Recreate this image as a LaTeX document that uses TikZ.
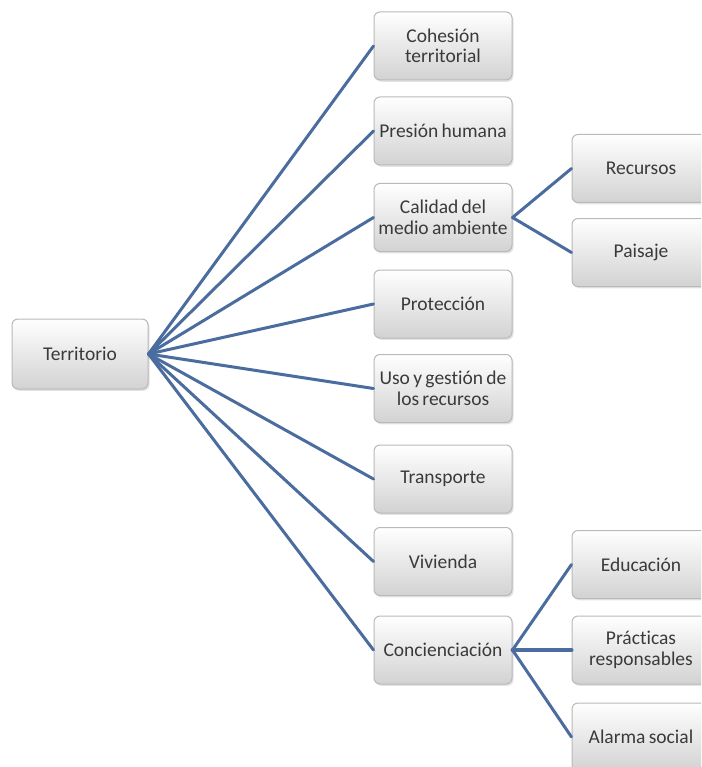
\documentclass[tikz,border=0pt]{standalone}
\usepackage{fontspec}
\setmainfont{Carlito}[Ligatures={NoCommon,NoRare}]
\usetikzlibrary{shadows}
\definecolor{linkc}{RGB}{74,108,158}
\definecolor{boxborder}{RGB}{185,185,185}
\definecolor{boxbottom}{RGB}{210,210,210}
\definecolor{txt}{RGB}{58,58,58}
\newcommand\boxfont{\fontsize{19.5}{20.5}\selectfont\spaceskip=0.17em plus 0.02em\relax}
\begin{document}
\begin{tikzpicture}[x=1pt,y=-1pt,
 box/.style={draw=boxborder, line width=1pt, rounded corners=6pt,
   top color=white, bottom color=boxbottom,
   minimum width=138pt, minimum height=68pt,
   align=center, font=\boxfont, text=txt, inner sep=1pt,
   drop shadow={opacity=0.22, shadow xshift=1.5pt, shadow yshift=-1.8pt}},
 link/.style={draw=linkc, line width=3pt, line cap=round}]
\useasboundingbox (0,0) rectangle (701,767);
\clip (0,0) rectangle (701,767);
\fill[white] (0,0) rectangle (701,767);

\node[box, minimum width=136pt, minimum height=70pt] (terr) at (80,354) {Territorio};

\node[box] (coh)  at (443,46)    {Cohesión\\territorial};
\node[box] (pres) at (443,131)   {Presión humana};
\node[box] (cal)  at (443,217.5) {Calidad del\\medio ambiente};
\node[box] (prot) at (443,304)   {Protección};
\node[box] (uso)  at (443,388.5) {Uso y gestión de\\los recursos};
\node[box] (trans) at (443,479)  {Transporte};
\node[box] (viv)  at (443,561.5) {Vivienda};
\node[box] (conc) at (443,650)   {Concienciación};

\node[box] (rec)  at (641,168.5) {Recursos};
\node[box] (pai)  at (641,252.5) {Paisaje};
\node[box] (edu)  at (641,564.5) {Educación};
\node[box] (prac) at (641,650)   {Prácticas\\responsables};
\node[box] (alar) at (641,737)   {Alarma social};

\foreach \t in {coh,pres,cal,prot,uso,trans,viv,conc}
  \draw[link] (terr.east) -- (\t.west);
\draw[link] (cal.east) -- (rec.west);
\draw[link] (cal.east) -- (pai.west);
\draw[link] (conc.east) -- (edu.west);
\draw[link, line width=4pt] (conc.east) -- (prac.west);
\draw[link] (conc.east) -- (alar.west);
\end{tikzpicture}
\end{document}
